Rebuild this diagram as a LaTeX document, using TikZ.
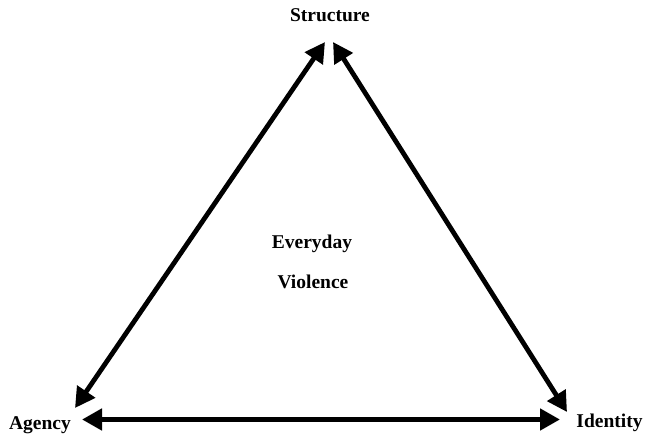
\documentclass[tikz,border=0pt]{standalone}
\usepackage{fontspec}
\setmainfont{Liberation Serif}
\usetikzlibrary{arrows.meta}
\begin{document}
\begin{tikzpicture}[x=1pt,y=-1pt,
  lbl/.style={font=\fontsize{19.5}{23}\selectfont\bfseries, inner sep=0pt, anchor=base},
  dbl/.style={line width=4.8pt, {Triangle[length=20pt,width=21pt]}-{Triangle[length=20pt,width=21pt]}}]
\useasboundingbox (0,0) rectangle (646,439);
\node[lbl] (structure) at (330,21) {Structure};
\node[lbl] (agency) at (40,429) {Agency};
\node[lbl] (identity) at (609.5,427) {Identity};
\node[lbl] (everyday) at (312,248) {Everyday};
\node[lbl] (violence) at (313,288) {Violence};
\coordinate (sL) at (325,42);
\coordinate (sR) at (333,42);
\coordinate (aT) at (75,408);
\coordinate (aR) at (82,419.5);
\coordinate (iT) at (567,412);
\coordinate (iL) at (560,419.5);
\draw[dbl] (aT) -- (sL);
\draw[dbl] (iT) -- (sR);
\draw[dbl] (aR) -- (iL);
\end{tikzpicture}
\end{document}
